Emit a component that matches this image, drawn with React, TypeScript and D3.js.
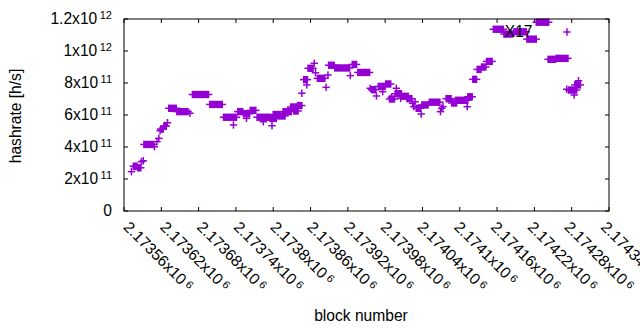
import * as d3 from 'd3';
import * as React from 'react';

// x ticks (block number), gnuplot style "2.17356x10^6"
const xTickValues = [2173560, 2173620, 2173680, 2173740, 2173800, 2173860, 2173920, 2173980, 2174040, 2174100, 2174160, 2174220, 2174280, 2174340];
const xTickMantissa = ["2.17356", "2.17362", "2.17368", "2.17374", "2.1738", "2.17386", "2.17392", "2.17398", "2.17404", "2.1741", "2.17416", "2.17422", "2.17428", "2.17434"];
const xTickExponent = "6";

// y ticks (hashrate)
const yTickValues = [0, 2e11, 4e11, 6e11, 8e11, 1e12, 1.2e12];
const yTickMantissa = ["0", "2", "4", "6", "8", "1", "1.2"];
const yTickExponent = ["", "11", "11", "11", "11", "12", "12"];

const seriesTitle = "X17";

// runs of consecutive blocks with the same hashrate (start == end is a single block)
const runStart = [
  2173572, 2173578, 2173575, 2173582, 2173588, 2173591, 2173592, 2173609, 2173613, 2173616,
  2173618, 2173619, 2173624, 2173630, 2173632, 2173645, 2173666, 2173670, 2173698, 2173720,
  2173736, 2173743, 2173752, 2173757, 2173763, 2173774, 2173784, 2173795, 2173798, 2173800,
  2173808, 2173816, 2173828, 2173833, 2173839, 2173846, 2173849, 2173854, 2173856, 2173866,
  2173868, 2173871, 2173885, 2173888, 2173889, 2173899, 2173924, 2173927, 2173936, 2173956,
  2173958, 2173966, 2173969, 2173976, 2173981, 2173987, 2173990, 2173998, 2173996, 2174005,
  2174007, 2174015, 2174024, 2174026, 2174028, 2174030, 2174038, 2174039, 2174051, 2174069,
  2174071, 2174073, 2174078, 2174087, 2174093, 2174112, 2174113, 2174121, 2174128, 2174135,
  2174143, 2174154, 2174171, 2174187, 2174208, 2174223, 2174242, 2174255, 2174272, 2174275,
  2174284, 2174285, 2174291,
];
const runEnd = [
  2173572, 2173578, 2173581, 2173587, 2173588, 2173591, 2173607, 2173609, 2173613, 2173616,
  2173618, 2173623, 2173628, 2173630, 2173644, 2173663, 2173666, 2173696, 2173718, 2173741,
  2173736, 2173751, 2173762, 2173757, 2173772, 2173794, 2173784, 2173805, 2173798, 2173810,
  2173819, 2173829, 2173838, 2173840, 2173846, 2173846, 2173855, 2173854, 2173864, 2173866,
  2173868, 2173883, 2173885, 2173888, 2173898, 2173923, 2173924, 2173934, 2173955, 2173956,
  2173965, 2173966, 2173980, 2173976, 2173989, 2173995, 2173990, 2173998, 2174006, 2174005,
  2174017, 2174023, 2174024, 2174026, 2174028, 2174037, 2174038, 2174049, 2174068, 2174069,
  2174071, 2174073, 2174086, 2174095, 2174113, 2174112, 2174120, 2174127, 2174134, 2174142,
  2174152, 2174170, 2174185, 2174207, 2174223, 2174243, 2174254, 2174274, 2174272, 2174288,
  2174284, 2174294, 2174291,
];
const runHashrate = [
  2.46e11, 2.77e11, 2.80e11, 2.70e11, 3.08e11, 3.14e11, 4.16e11, 4.02e11, 4.33e11, 4.54e11,
  5.02e11, 5.12e11, 5.30e11, 5.52e11, 6.42e11, 6.21e11, 6.11e11, 7.28e11, 6.66e11, 5.86e11,
  5.38e11, 6.21e11, 6.08e11, 5.79e11, 6.29e11, 5.86e11, 5.58e11, 5.79e11, 5.33e11, 6.03e11,
  5.94e11, 6.21e11, 6.50e11, 6.25e11, 6.59e11, 7.36e11, 8.21e11, 7.88e11, 8.92e11, 9.23e11,
  8.64e11, 8.29e11, 7.73e11, 8.50e11, 9.11e11, 8.94e11, 8.46e11, 9.16e11, 8.66e11, 7.67e11,
  7.58e11, 7.19e11, 7.79e11, 7.46e11, 7.94e11, 7.00e11, 7.11e11, 7.67e11, 7.33e11, 7.04e11,
  7.17e11, 7.02e11, 6.73e11, 6.52e11, 6.83e11, 6.42e11, 6.06e11, 6.63e11, 6.80e11, 6.21e11,
  6.42e11, 6.52e11, 7.02e11, 6.75e11, 6.92e11, 6.52e11, 7.14e11, 8.23e11, 8.85e11, 9.00e11,
  9.35e11, 11.36e11, 11.06e11, 11.20e11, 10.74e11, 11.80e11, 9.48e11, 9.54e11, 7.61e11, 7.56e11,
  7.25e11, 7.88e11, 8.14e11,
];

const W = 640;
const H = 330;
const margin = { top: 19, right: 31, bottom: 119, left: 124 };
const color = "#9400d3";
const font = "'Liberation Sans', Arial, sans-serif";
const arm = 3.7; // half size of the "+" point

export default function App() {
  const x = d3.scaleLinear()
    .domain([xTickValues[0], xTickValues[xTickValues.length - 1]])
    .range([margin.left, W - margin.right]);
  const y = d3.scaleLinear()
    .domain([yTickValues[0], yTickValues[yTickValues.length - 1]])
    .range([H - margin.bottom, margin.top]);

  const [x0, x1] = x.range();
  const [yb, yt] = y.range();
  // gnuplot places the rotated labels on a slightly tighter spacing than the ticks
  const xl = x.copy().range([x0 + 2.5, x1 - 5]);

  return (
    <svg width={W} height={H} style={{ position: 'absolute', left: 0, top: 0, background: 'white' }}
      fontFamily={font} fontSize={15.6}>
      {/* ticks, mirrored on all four sides */}
      <g stroke="black" strokeWidth={1}>
        {yTickValues.map((v, i) => (
          <g key={"yt" + i}>
            <line x1={x0} x2={x0 + 4} y1={y(v)} y2={y(v)} />
            <line x1={x1} x2={x1 - 4} y1={y(v)} y2={y(v)} />
          </g>
        ))}
        {xTickValues.map((v, i) => (
          <g key={"xt" + i}>
            <line x1={x(v)} x2={x(v)} y1={yb} y2={yb - 4} />
            <line x1={x(v)} x2={x(v)} y1={yt} y2={yt + 4} />
          </g>
        ))}
      </g>

      {/* y tick labels */}
      {yTickValues.map((v, i) => (
        <text key={"yl" + i} x={112} y={y(v) + 5.3} textAnchor="end">
          {yTickExponent[i] ? yTickMantissa[i] + "x10" : yTickMantissa[i]}
          {yTickExponent[i] && <tspan dx={2.5} dy={-5} fontSize={11}>{yTickExponent[i]}</tspan>}
        </text>
      ))}

      {/* x tick labels, rotated */}
      {xTickValues.map((v, i) => (
        <text key={"xl" + i} transform={`translate(${xl(v)},${yb + 13}) rotate(45)`}
          dominantBaseline="central">
          {xTickMantissa[i] + "x10"}
          <tspan dx={3} dy={-2} fontSize={11}>{xTickExponent}</tspan>
        </text>
      ))}

      {/* axis titles */}
      <text transform={`translate(21,${(yb + yt) / 2 + 1}) rotate(-90)`} textAnchor="middle">hashrate [h/s]</text>
      <text x={361} y={321} textAnchor="middle">block number</text>

      {/* key sample */}
      <g stroke={color} strokeWidth={1.5}>
        <line x1={x1 - 42 - arm} x2={x1 - 42 + arm} y1={yt + 13} y2={yt + 13} />
        <line x1={x1 - 42} x2={x1 - 42} y1={yt + 13 - arm} y2={yt + 13 + arm} />
      </g>

      {/* points: each run of equal values merges its "+" marks */}
      <g fill={color} stroke={color}>
        {runStart.map((b, i) => {
          const a = x(b);
          const e = x(runEnd[i]);
          const yy = y(runHashrate[i]);
          return (
            <g key={"p" + i}>
              <line x1={a - arm} x2={e + arm} y1={yy} y2={yy} strokeWidth={1.5} />
              <rect x={a - 0.75} width={e - a + 1.5} y={yy - arm} height={2 * arm} stroke="none" />
            </g>
          );
        })}
      </g>

      {/* key title */}
      <text x={x1 - 76.5} y={37} textAnchor="end">{seriesTitle}</text>

      {/* border */}
      <rect x={x0} y={yt} width={x1 - x0} height={yb - yt} fill="none" stroke="black" strokeWidth={1} />
    </svg>
  );
}
